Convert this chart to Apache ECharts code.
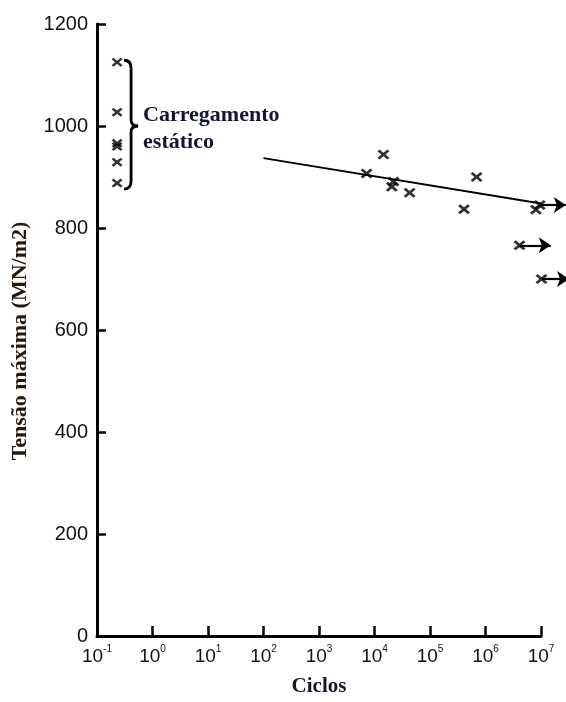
<!DOCTYPE html>
<html>
<head>
<meta charset="utf-8">
<script src="https://cdn.jsdelivr.net/npm/echarts@6/dist/echarts.min.js"></script>
<style>html,body{margin:0;padding:0;background:#fff}#c{width:566px;height:702px}</style>
</head>
<body>
<div id="c"></div>
<script>
// ---- data ----
const xTicks = [0.1, 1, 10, 100, 1e3, 1e4, 1e5, 1e6, 1e7];
const yTicks = [0, 200, 400, 600, 800, 1000, 1200];
const staticX = [0.23, 0.23, 0.23, 0.23, 0.23, 0.23];
const staticY = [1125, 1027, 966, 960, 929, 888];
const fatigueX = [1.45e4, 7.2e3, 2.2e4, 2.05e4, 4.3e4, 6.9e5, 4.1e5, 8.1e6, 9.5e6, 4.1e6, 1.02e7];
const fatigueY = [944, 907, 891, 881, 869, 900, 837, 836, 845, 766, 700];
const runoutStartX = [9.5e6, 4.1e6, 1.02e7];
const runoutEndX = [2.8e7, 1.5e7, 3.2e7];
const runoutY = [845, 766, 700];
const fitX = [100, 1e7];
const fitY = [937, 848];
const staticLabel = ['Carregamento', 'estático'];

const crossPath = 'path://M0,1.8L1.8,0L5,3.2L8.2,0L10,1.8L6.8,5L10,8.2L8.2,10L5,6.8L1.8,10L0,8.2L3.2,5Z';

const chart = echarts.init(document.getElementById('c'));
const pts = (xs, ys) => xs.map((x, i) => [x, ys[i]]);

chart.setOption({
  animation: false,
  backgroundColor: '#fff',
  grid: {left: 97, right: 25, top: 24, bottom: 60, containLabel: false},
  xAxis: {
    type: 'log', logBase: 10, min: xTicks[0], max: xTicks[xTicks.length - 1],
    name: 'Ciclos', nameLocation: 'middle', nameGap: 40,
    nameTextStyle: {fontFamily: 'Liberation Serif', fontWeight: 'bold', fontSize: 21, color: '#14142a'},
    axisLine: {lineStyle: {color: '#000', width: 3}},
    axisTick: {inside: true, length: 10, lineStyle: {color: '#000', width: 2.5}},
    splitLine: {show: false},
    axisLabel: {
      margin: 8, color: '#111', fontFamily: 'Liberation Sans', fontSize: 19,
      formatter: v => '10{s|' + Math.round(Math.log10(v)) + '}',
      rich: {s: {fontSize: 10, fontFamily: 'Liberation Sans', color: '#111', padding: [0, 0, 15, 0]}}
    }
  },
  yAxis: {
    type: 'value', min: yTicks[0], max: yTicks[yTicks.length - 1], interval: 200,
    name: 'Tensão máxima (MN/m2)', nameLocation: 'middle', nameGap: 66,
    nameTextStyle: {fontFamily: 'Liberation Serif', fontWeight: 'bold', fontSize: 22, color: '#24190f',
                    padding: [0, 22, 0, 0]},
    axisLine: {show: true, lineStyle: {color: '#000', width: 3}},
    axisTick: {show: true, inside: true, length: 9, lineStyle: {color: '#000', width: 2.5}},
    splitLine: {show: false},
    axisLabel: {margin: 9, color: '#111', fontFamily: 'Liberation Sans', fontSize: 20,
                formatter: v => String(v)}
  },
  series: [
    {type: 'line', data: pts(fitX, fitY), symbol: 'none', lineStyle: {color: '#000', width: 2}, z: 2},
    {type: 'scatter', data: pts(staticX, staticY), symbol: crossPath, symbolSize: [11, 9],
     itemStyle: {color: '#000'}, clip: false, z: 3},
    {type: 'scatter', data: pts(fatigueX, fatigueY), symbol: crossPath, symbolSize: [12, 10],
     itemStyle: {color: '#000'}, clip: false, z: 3},
    {type: 'lines', coordinateSystem: 'cartesian2d', clip: false, z: 3,
     symbol: ['none', 'arrow'], symbolSize: 12,
     lineStyle: {color: '#000', width: 2.2, opacity: 1},
     data: runoutY.map((y, i) => ({coords: [[runoutStartX[i], y], [runoutEndX[i], y]]}))}
  ]
});

// brace + label anchored to the static-load points
const pTop = chart.convertToPixel({gridIndex: 0}, [staticX[0], Math.max(...staticY)]);
const pBot = chart.convertToPixel({gridIndex: 0}, [staticX[0], Math.min(...staticY)]);
const pMid = chart.convertToPixel({gridIndex: 0}, [staticX[0], 1000]);
const bx0 = pTop[0] + 7, by0 = pTop[1] - 2, by1 = pBot[1] + 6, bym = pMid[1];
const bxs = bx0 + 7, bxt = bx0 + 14;
const st = {fill: 'none', stroke: '#000', lineWidth: 2.8};
const q = (x1, y1, cx, cy, x2, y2) => ({type: 'bezierCurve', shape: {x1, y1, x2, y2, cpx1: cx, cpy1: cy}, style: st});
const ln = (x1, y1, x2, y2) => ({type: 'line', shape: {x1, y1, x2, y2}, style: st});
chart.setOption({
  graphic: [
    q(bx0, by0, bxs, by0, bxs, by0 + 8),
    ln(bxs, by0 + 8, bxs, bym - 6),
    q(bxs, bym - 6, bxs, bym, bxt, bym),
    q(bxt, bym, bxs, bym, bxs, bym + 6),
    ln(bxs, bym + 6, bxs, by1 - 8),
    q(bxs, by1 - 8, bxs, by1, bx0, by1),
    {type: 'text', left: bxt + 5, top: bym - 24,
     style: {text: staticLabel.join('\n'), fontFamily: 'Liberation Serif', fontWeight: 'bold',
             fontSize: 22, lineHeight: 27, fill: '#14143a'}}
  ]
});
</script>
</body>
</html>
